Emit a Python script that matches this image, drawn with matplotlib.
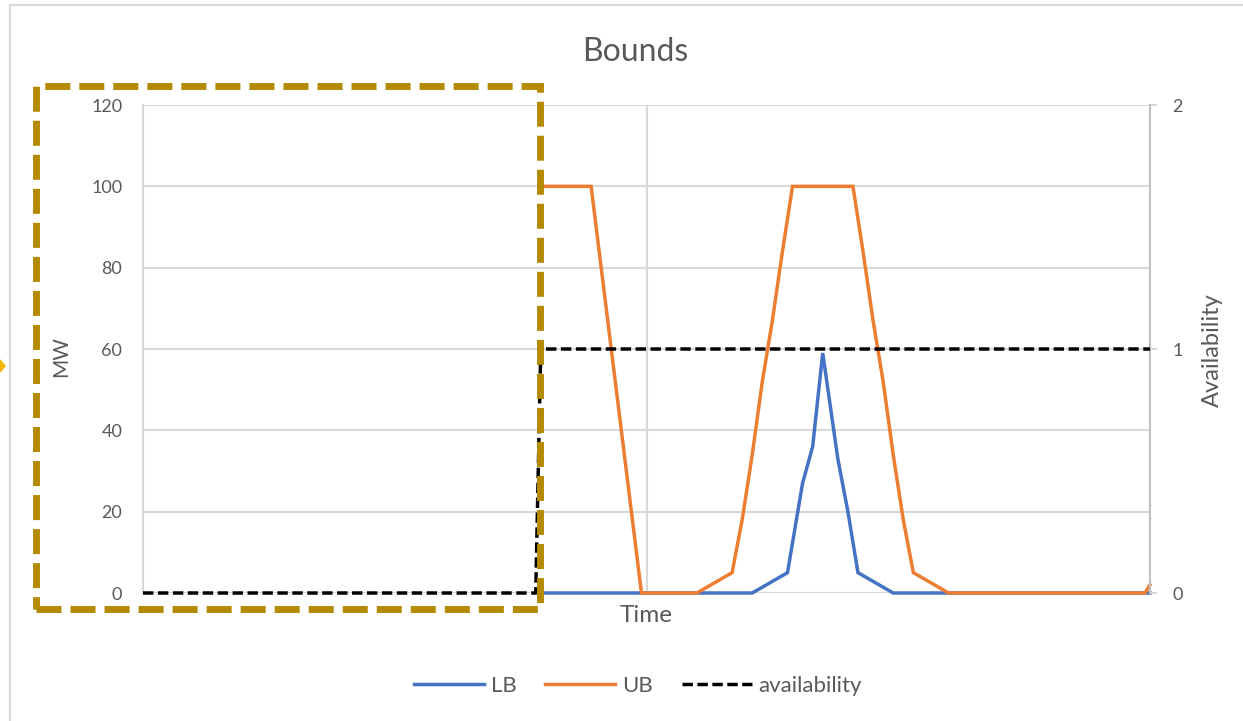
import matplotlib
matplotlib.use('Agg')
import matplotlib.pyplot as plt
import matplotlib.patches as mpatches
from matplotlib.lines import Line2D

plt.rcParams['font.family'] = ['Lato', 'DejaVu Sans']

# time index of each breakpoint and the bound values there (MW)
lb_time = [79, 121, 128, 131, 133, 135, 138, 140, 142, 149, 200]
lb_vals = [0, 0, 5, 27, 36, 59, 33, 20, 5, 0, 0]

ub_time = [79, 89, 99, 110, 117, 119, 121, 123, 125, 127, 129,
           141, 143, 145, 147, 149, 151, 153, 160, 199, 200]
ub_vals = [100, 100, 0, 0, 5, 18, 34, 52, 67, 84, 100,
           100, 84, 67, 52, 34, 18, 5, 0, 0, 2]

avail_time = [0, 78, 79, 200]
avail_vals = [0, 0, 1, 1]

mw_ticks = [0, 20, 40, 60, 80, 100, 120]
avail_ticks = [0, 1, 2]

TXT = '#595959'
GRID = '#d9d9d9'
BLUE = '#4472C4'
ORANGE = '#ED7D31'
GOLD = '#B38A00'
LW = 2.5
DASH = (3, 1.3)

W, H = 1243, 721
fig = plt.figure(figsize=(W / 100, H / 100), dpi=100)
fig.patch.set_facecolor('white')

# plot area in pixel terms
x0, x1, ytop, ybot = 143, 1150, 105, 593
ax = fig.add_axes([x0 / W, 1 - ybot / H, (x1 - x0) / W, (ybot - ytop) / H])
ax.set_facecolor('none')

ax.plot(lb_time, lb_vals, color=BLUE, lw=LW, solid_joinstyle='miter',
        clip_on=False, zorder=3)
ax.plot(ub_time, ub_vals, color=ORANGE, lw=LW, solid_joinstyle='miter',
        clip_on=False, zorder=3)

ax.set_xlim(0, 200)
ax.set_ylim(0, 120)
ax.set_yticks(mw_ticks)
ax.set_xticks([])
for v in mw_ticks[1:]:
    ax.axhline(v, color=GRID, lw=1.5, zorder=1)
ax.axvline(100, color=GRID, lw=1.5, zorder=1)
ax.tick_params(axis='y', length=0, pad=15, labelsize=13, labelcolor=TXT)
for s in ['top', 'right', 'bottom']:
    ax.spines[s].set_visible(False)
ax.spines['left'].set_color(GRID)
ax.spines['left'].set_linewidth(1.5)
ax.axhline(0, color=GRID, lw=1.5, zorder=1)

ax.set_ylabel('MW', fontsize=15, color=TXT)
ax.yaxis.set_label_coords(-0.071, 0.485)
ax.text(0.5, -0.047, 'Time', transform=ax.transAxes, ha='center', va='center',
        fontsize=17.5, color=TXT)

# secondary axis for availability
ax2 = ax.twinx()
ax2.set_ylim(0, 2)
ax2.set_yticks(avail_ticks)
ax2.plot(avail_time, avail_vals, color='black', lw=LW, dashes=DASH,
         clip_on=False, zorder=4)
ax2.tick_params(axis='y', length=5, width=1.5, color=GRID, pad=11,
                labelsize=13, labelcolor=TXT)
for s in ['top', 'left', 'bottom']:
    ax2.spines[s].set_visible(False)
ax2.spines['right'].set_color('#bfbfbf')
ax2.spines['right'].set_linewidth(1.5)
ax2.set_ylabel('Availability', fontsize=17, color=TXT)
ax2.yaxis.set_label_coords(1.052, 0.498)

fig.text(635 / W, 1 - 52 / H, 'Bounds', ha='center', va='center',
         fontsize=23, color=TXT)

handles = [Line2D([], [], color=BLUE, lw=LW),
           Line2D([], [], color=ORANGE, lw=LW),
           Line2D([], [], color='black', lw=LW, dashes=DASH)]
leg = fig.legend(handles, ['LB', 'UB', 'availability'], loc='center',
                 bbox_to_anchor=(638 / W, 1 - 686 / H), ncol=3, frameon=False,
                 fontsize=16, handlelength=3.15, handletextpad=0.3,
                 columnspacing=1.3)
for t in leg.get_texts():
    t.set_color(TXT)

# chart area border (only top and left edges fall inside the image)
fig.add_artist(Line2D([10 / W, 1], [1 - 5 / H, 1 - 5 / H], color='#d9d9d9', lw=1.5))
fig.add_artist(Line2D([10 / W, 10 / W], [0, 1 - 5 / H], color='#d9d9d9', lw=1.5))

# highlighted region around the empty first part of the horizon
rx0, ry0, rx1, ry1 = 36, 86, 540, 609
box = mpatches.Rectangle((rx0 / W, 1 - ry1 / H), (rx1 - rx0) / W, (ry1 - ry0) / H,
                         transform=fig.transFigure, fill=False, edgecolor=GOLD,
                         lw=5, linestyle=(0, (3.6, 1.3)), zorder=10)
fig.add_artist(box)

# arrow tip poking in from the left edge
tip = mpatches.Polygon([(0, 1 - 359 / H), (6 / W, 1 - 366 / H), (0, 1 - 373 / H)],
                       closed=True, transform=fig.transFigure,
                       facecolor='#F2B600', edgecolor='none', zorder=10)
fig.add_artist(tip)

fig.savefig('out.png', dpi=100, facecolor='white')
